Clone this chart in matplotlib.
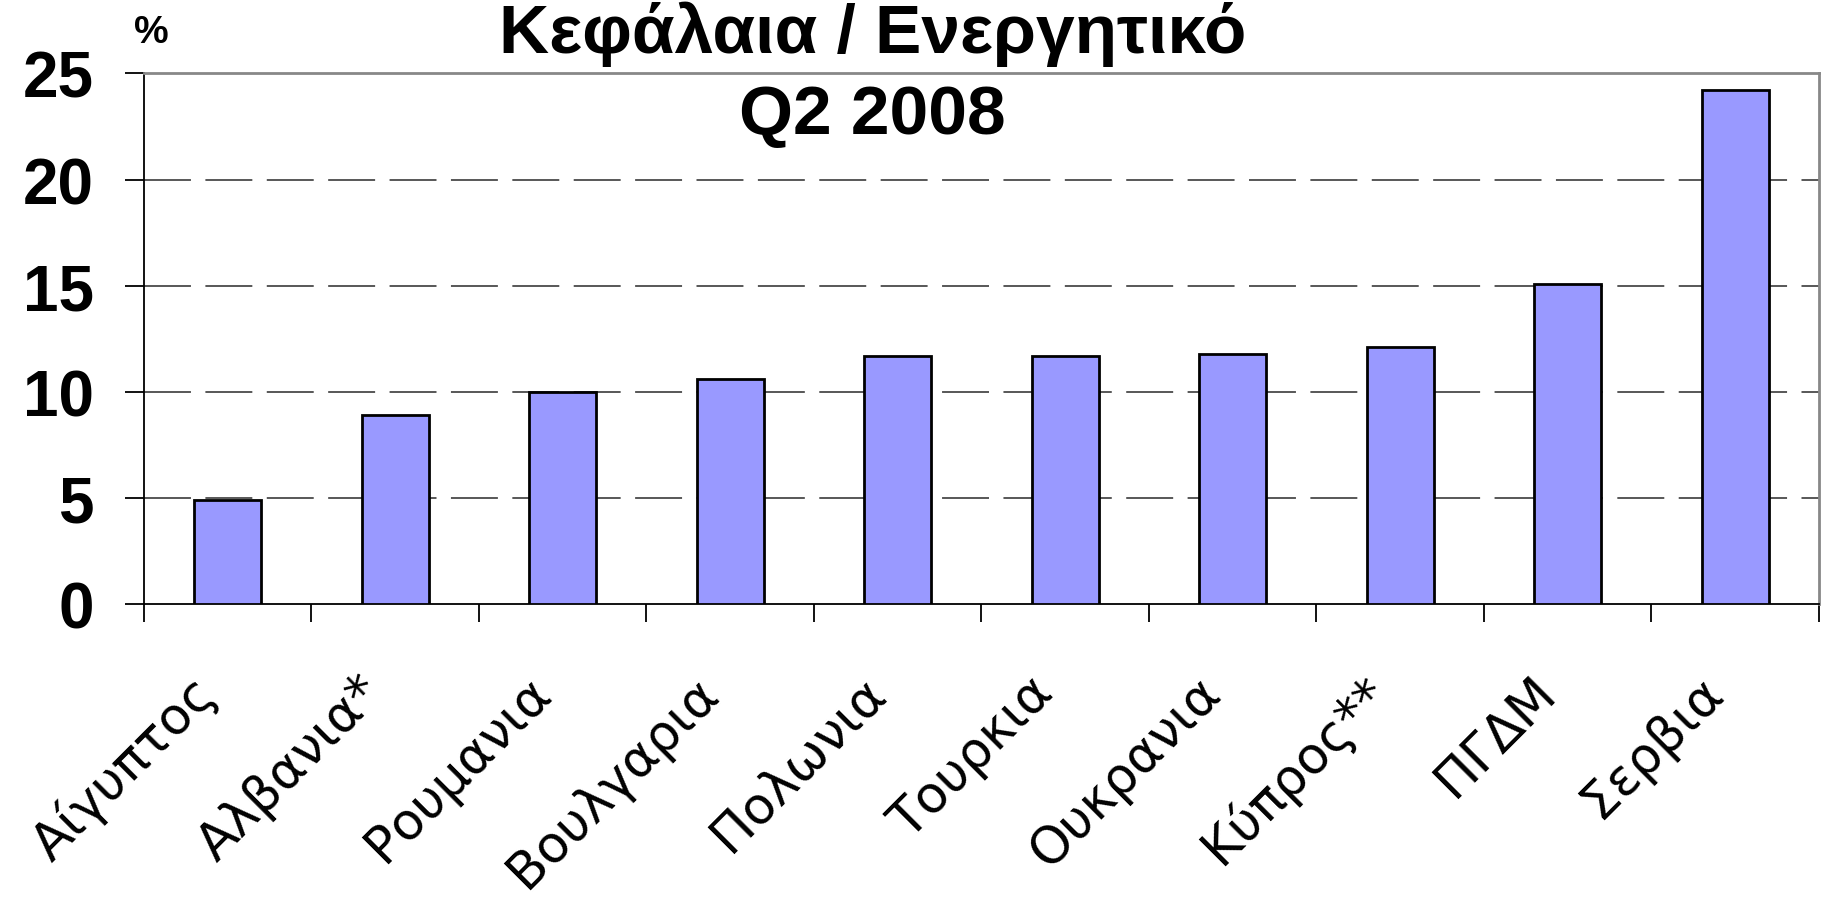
import matplotlib
matplotlib.use("Agg")
import matplotlib.pyplot as plt
import matplotlib.transforms as mtransforms
import numpy as np

# δεδομένα
countries = ['Αίγυπτος', 'Αλβανια*', 'Ρουμανια', 'Βουλγαρια', 'Πολωνια',
             'Τουρκια', 'Ουκρανια', 'Κύπρος**', 'ΠΓΔΜ', 'Σερβια']
values = [4.9, 8.9, 10.0, 10.6, 11.7, 11.7, 11.8, 12.1, 15.1, 24.2]
yticks = [0, 5, 10, 15, 20, 25]

plt.rcParams['font.family'] = ['Liberation Sans', 'DejaVu Sans']

fig = plt.figure(figsize=(18.25, 9.03), dpi=100)
ax = fig.add_axes([0.0789, 0.330, 0.9178, 0.5875])

x = np.arange(len(countries))
ax.bar(x, values, width=0.4, color='#9999FF', edgecolor='black', linewidth=2, zorder=3)

ax.set_xlim(-0.5, len(countries) - 0.5)
ax.set_ylim(0, 25)

# πλέγμα
for v in yticks[1:-1]:
    ax.axhline(v, color='#4a4a4a', linewidth=1.3, dashes=(26, 8), zorder=1)

ax.spines['top'].set_color('#888888')
ax.spines['right'].set_color('#888888')
ax.spines['top'].set_linewidth(2)
ax.spines['right'].set_linewidth(2)
ax.spines['left'].set_linewidth(1.3)
ax.spines['bottom'].set_linewidth(1.3)

ax.set_yticks(yticks)
ax.set_yticklabels([str(v) for v in yticks], fontsize=46, fontweight='bold')
ax.tick_params(axis='y', length=14, width=1.3, pad=22)

ax.set_xticks(x)
ax.set_xticklabels(countries, fontsize=37, rotation=45, ha='right', va='center',
                   rotation_mode='anchor', family=['DejaVu Sans'])
ax.tick_params(axis='x', which='major', length=0, pad=58)
shift = mtransforms.ScaledTranslation(-0.2, 0, fig.dpi_scale_trans)
for lbl in ax.get_xticklabels():
    lbl.set_transform(lbl.get_transform() + shift)
ax.set_xticks(np.arange(-0.5, len(countries)), minor=True)
ax.tick_params(axis='x', which='minor', length=13, width=1.3)

fig.text(0.478, 0.962, 'Κεφάλαια / Ενεργητικό', ha='center', va='center',
         fontsize=50, fontweight='bold')
fig.text(0.478, 0.872, 'Q2 2008', ha='center', va='center',
         fontsize=50, fontweight='bold')
fig.text(0.083, 0.963, '%', ha='center', va='center', fontsize=28, fontweight='bold')

fig.savefig('out.png', dpi=100)
